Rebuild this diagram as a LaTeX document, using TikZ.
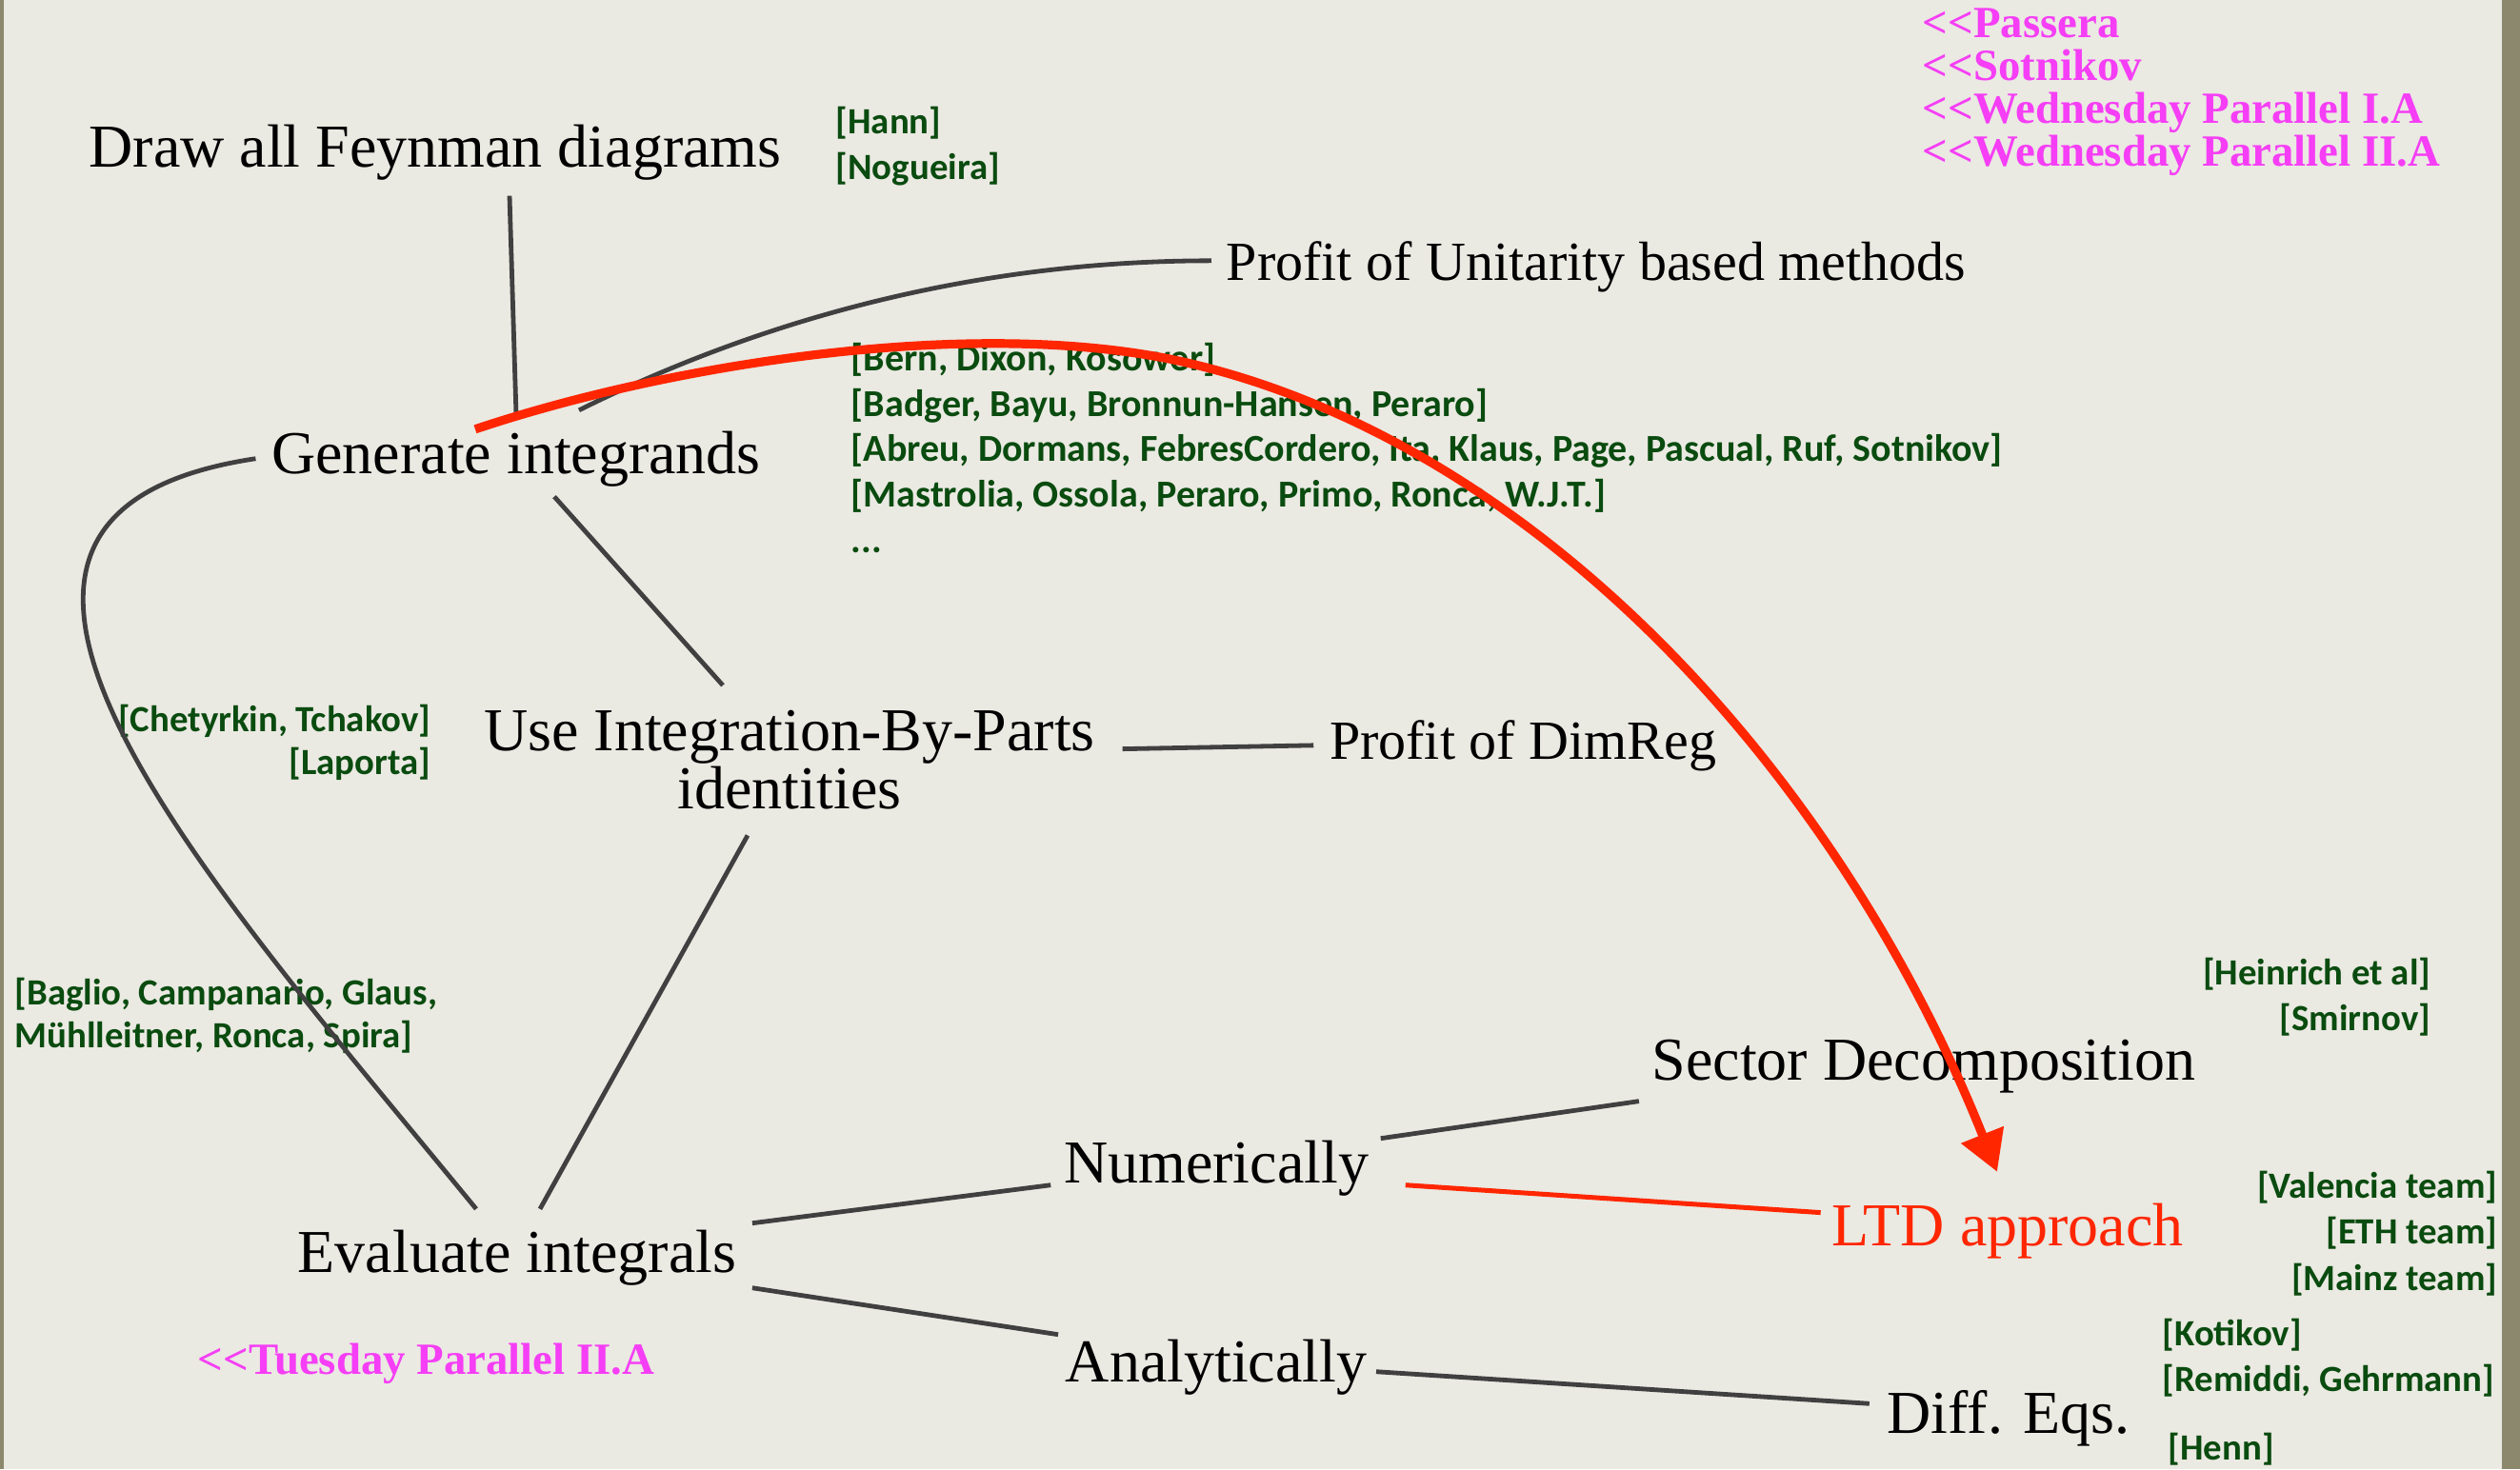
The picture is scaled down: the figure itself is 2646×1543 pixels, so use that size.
\documentclass[tikz,border=0pt]{standalone}
\usepackage{fontspec}
\setmainfont{Liberation Serif}
\newfontfamily\refsfont{Carlito}
\usetikzlibrary{arrows.meta}

\definecolor{paper}{RGB}{234,233,226}
\definecolor{frame}{RGB}{140,136,110}
\definecolor{refgreen}{RGB}{10,75,15}
\definecolor{talkpink}{RGB}{245,62,245}
\definecolor{ltdred}{RGB}{255,38,0}
\definecolor{linkgray}{RGB}{64,64,64}
\newcommand{\talklink}{<\kern0pt<}

\begin{document}
\begin{tikzpicture}
    [x=0.25pt, y=-0.25pt,
      every node/.style={inner sep=4pt},
      stage/.style={anchor=base, font=\fontsize{16}{15.25}\selectfont},
      profit/.style={anchor=base, font=\fontsize{14.5}{16}\selectfont},
      refs/.style={inner sep=0pt, text=refgreen, font=\refsfont\bfseries\fontsize{9.7}{#1}\selectfont},
      refs/.default=12pt,
      talk/.style={inner sep=0pt, anchor=base west, align=left, text=talkpink, font=\bfseries\fontsize{11.7}{11.25}\selectfont},
      link/.style={draw=linkgray, line width=1.2pt},
      ltdlink/.style={draw=ltdred, line width=1.25pt},
      ltdarrow/.style={draw=ltdred, line width=2.3pt, -{Triangle[length=10.5pt, width=11.5pt]}},
     ]
    \useasboundingbox (0,0) rectangle (2646,1543);
    \fill[paper] (0,0) rectangle (2646,1543);
    \fill[frame] (0,0) rectangle (4,1543);
    \fill[frame] (2627,0) rectangle (2646,1543);

    % steps
    \node[stage] (draw) at (457,175) {Draw all Feynman diagrams};
    \node[stage] (gen) at (542,497) {Generate integrands};
    \node[stage, align=center] (ibp) at (829,849) {Use Integration-By-Parts\\identities};
    \node[profit] (dimreg) at (1599,797) {Profit of DimReg};
    \node[profit] (unit) at (1676,294) {Profit of Unitarity based methods};
    \node[stage] (eval) at (543,1336) {Evaluate integrals};
    \node[stage] (num) at (1277,1242) {Numerically};
    \node[stage] (ana) at (1277,1451) {Analytically};
    \node[stage] (sector) at (2020,1134) {Sector Decomposition};
    \node[stage, text=ltdred] (ltd) at (2108,1308) {LTD approach};
    \node[stage] (diff) at (2109,1505) {Diff. Eqs.};

    % references (anchored at the last line)
    \node[refs, anchor=base west, align=left] (hann) at (877,188) {[Hann]\\\relax[Nogueira]};
    \node[refs=11.9pt, anchor=base west, align=left, font=\refsfont\bfseries\fontsize{10}{11.9}\selectfont] (bern) at (893,580)
      {[Bern, Dixon, Kosower]\\\relax[Badger, Bayu, Bronnun-Hansen, Peraro]\\\relax[Abreu, Dormans, FebresCordero, Ita, Klaus, Page, Pascual, Ruf, Sotnikov]\\\relax[Mastrolia, Ossola, Peraro, Primo, Ronca, W.J.T.]\\...};
    \node[refs=11.25pt, anchor=base east, align=right] (chet) at (453,813) {[Chetyrkin, Tchakov]\\\relax[Laporta]};
    \node[refs=11.25pt, anchor=base west, align=left] (baglio) at (15,1100) {[Baglio, Campanario, Glaus,\\Mühlleitner, Ronca, Spira]};
    \node[refs, anchor=base east, align=right] (hein) at (2553,1082) {[Heinrich et al]\\\relax[Smirnov]};
    \node[refs=12.1pt, anchor=base east, align=right] (valencia) at (2623,1355) {[Valencia team]\\\relax[ETH team]\\\relax[Mainz team]};
    \node[refs, anchor=base west, align=left] (kotikov) at (2270,1461) {[Kotikov]\\\relax[Remiddi, Gehrmann]};
    \node[refs, anchor=base west] (henn) at (2276,1533) {[Henn]};

    % talks
    \node[talk] (talks) at (2018,174) {\talklink Passera\\\talklink Sotnikov\\\talklink Wednesday Parallel I.A\\\talklink Wednesday Parallel II.A};
    \node[talk] (tuesday) at (207,1443) {\talklink Tuesday Parallel II.A};

    % connectors
    \draw[link] ([shift={(78,0)}]draw.south) -- (gen.north);
    \draw[link] ([shift={(66,-5)}]gen.north) .. controls +(135,-67) and +(-300,0) .. ([shift={(1,-6)}]unit.west);
    \draw[link] ([shift={(40,-6)}]gen.south) -- ([shift={(-70,-9)}]ibp.north);
    \draw[link] ([shift={(12,-11)}]ibp.east) -- (dimreg.west);
    \draw[link] ([shift={(-44,11)}]ibp.south) -- ([shift={(24,-5)}]eval.north);
    \draw[link] (gen.west) .. controls +(-400,60) and +(-285,-348) .. ([shift={(-43,-5)}]eval.north);
    \draw[link] ([shift={(0,-36)}]eval.east) -- ([shift={(3,18)}]num.west);
    \draw[link] ([shift={(0,32)}]eval.east) -- ([shift={(9,-34)}]ana.west);
    \draw[link] ([shift={(-4,-31)}]num.east) -- ([shift={(3,37)}]sector.west);
    \draw[ltdlink] ([shift={(22,18)}]num.east) -- ([shift={(5,-19)}]ltd.west);
    \draw[link] ([shift={(-7,5)}]ana.east) -- ([shift={(-2,-15)}]diff.west);

    % the LTD arrow
    \coordinate (arctop) at (1242,380);
    \draw[ltdarrow] ([shift={(-43,15)}]gen.north) .. controls +(209,-70) and +(-215,-48) .. (arctop)
      .. controls +(370,84) and +(-167,-419) .. ([shift={(-11,-16)}]ltd.north);
\end{tikzpicture}
\end{document}
